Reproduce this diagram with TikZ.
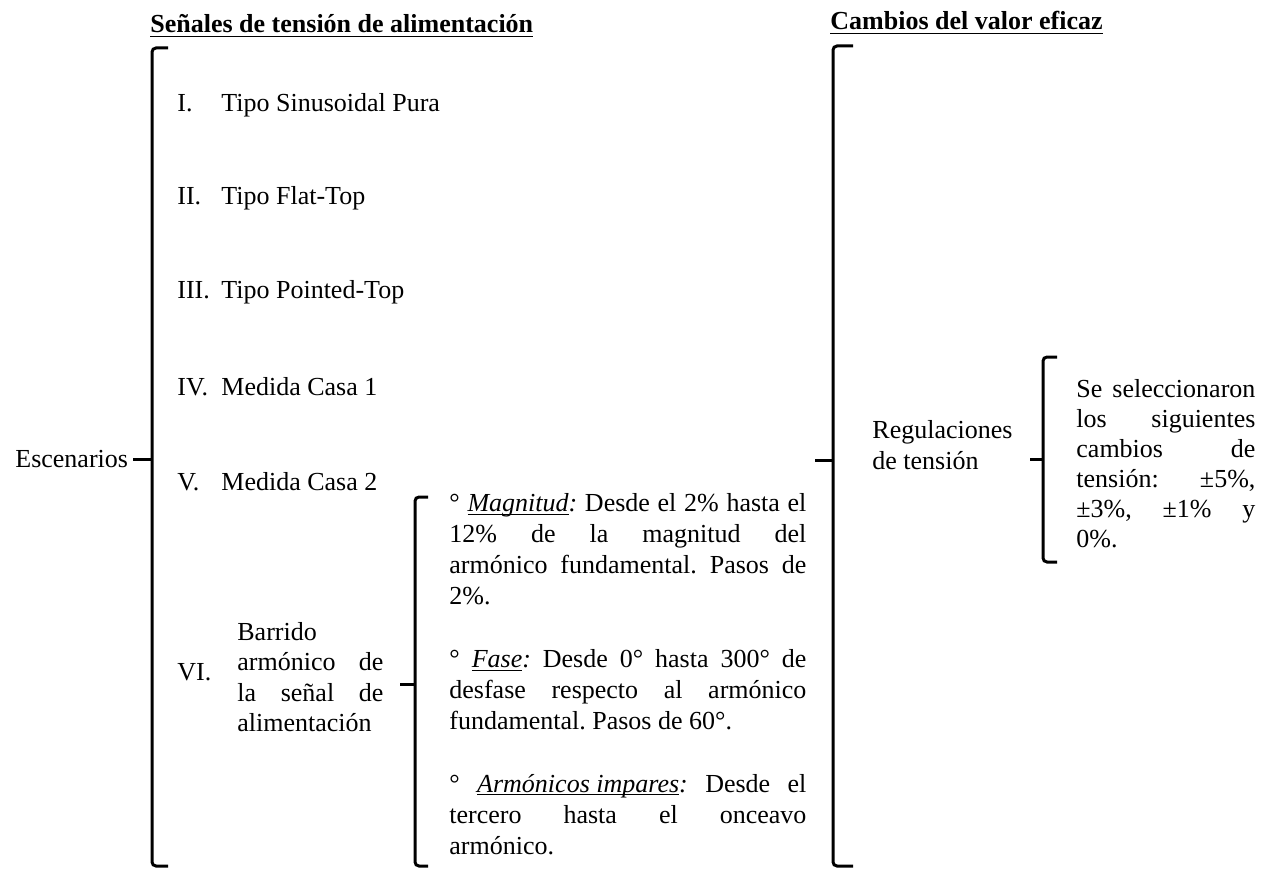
\documentclass[tikz,border=0pt]{standalone}
\usepackage{fontspec}
\setmainfont{Liberation Serif}
\usetikzlibrary{calc}
\frenchspacing

\begin{document}
\begin{tikzpicture}[x=0.5pt, y=-0.5pt,
    every node/.style={inner sep=0pt, font=\fontsize{13}{15.6}\selectfont},
    title/.style={anchor=base west, font=\fontsize{13}{15.6}\selectfont\bfseries},
    lbl/.style={anchor=base west},
    para/.style={anchor=west, align=justify},
    brace/.style={line width=1.5pt, rounded corners=2pt},
    tick/.style={line width=1.5pt}]

  \useasboundingbox (0,0) rectangle (1267,871);

  \node[title] (tit1) at (150,33) {\underline{Señales de tensión de alimentación}};
  \node[title] (tit2) at (830,30) {\underline{Cambios del valor eficaz}};

  \node[anchor=east, outer sep=2.5pt] (esc) at (133,459) {Escenarios};

  \node[lbl] (n1) at (177,112) {I.};
  \node[lbl] (s1) at (221,112) {Tipo Sinusoidal Pura};
  \node[lbl] (n2) at (177,205) {II.};
  \node[lbl] (s2) at (221,205) {Tipo Flat-Top};
  \node[lbl] (n3) at (177,299) {III.};
  \node[lbl] (s3) at (221,299) {Tipo Pointed-Top};
  \node[lbl] (n4) at (177,395) {IV.};
  \node[lbl] (s4) at (221,395) {Medida Casa 1};
  \node[lbl] (n5) at (177,490) {V.};
  \node[lbl] (s5) at (221,490) {Medida Casa 2};
  \node[lbl] (n6) at (177,680) {VI.};
  \node[para, text width=73pt, font=\fontsize{13}{15.2}\selectfont] (barrido) at (237,677) {Barrido\linebreak armónico de\linebreak la señal de\linebreak alimentación};

  \node[para, text width=178.5pt] (param) at (449,674) {°~\textit{\underline{\smash{Magnitud}}:} Desde el 2\% hasta el\linebreak 12\% de la magnitud del\linebreak armónico fundamental. Pasos de\linebreak 2\%.\\[15.6pt]
    °~\textit{\underline{\smash{Fase}}:} Desde 0° hasta 300° de\linebreak desfase respecto al armónico\linebreak fundamental. Pasos de 60°.\\[15.6pt]
    °~\textit{\underline{\smash{Armónicos impares}}:} Desde el\linebreak tercero hasta el onceavo\linebreak armónico.};

  \node[anchor=west, align=left] (reg) at (872,445) {Regulaciones\\de tensión};
  \node[para, text width=89.5pt, font=\fontsize{13}{15}\selectfont] (sel) at (1076,464) {Se seleccionaron\linebreak los siguientes\linebreak cambios de\linebreak tensión: ±5\%,\linebreak ±3\%, ±1\% y\linebreak 0\%.};

  % llaves
  \coordinate (b1t) at (152,48);
  \coordinate (b1b) at (152,866);
  \coordinate (b1m) at (152,459);
  \draw[brace] ($(b1t)+(16,0)$) -- (b1t) -- (b1b) -- ($(b1b)+(16,0)$);
  \draw[tick] (b1m) -- (esc);

  \coordinate (b2t) at (415,497);
  \coordinate (b2b) at (415,866);
  \coordinate (b2m) at (415,684);
  \coordinate (b2e) at (400,684);
  \draw[brace] ($(b2t)+(13,0)$) -- (b2t) -- (b2b) -- ($(b2b)+(13,0)$);
  \draw[tick] (b2m) -- (b2e);

  \coordinate (b3t) at (833,46);
  \coordinate (b3b) at (833,866);
  \coordinate (b3m) at (833,460);
  \coordinate (b3e) at (815,460);
  \draw[brace] ($(b3t)+(20,0)$) -- (b3t) -- (b3b) -- ($(b3b)+(20,0)$);
  \draw[tick] (b3m) -- (b3e);

  \coordinate (b4t) at (1043,357);
  \coordinate (b4b) at (1043,562);
  \coordinate (b4m) at (1043,459);
  \coordinate (b4e) at (1030,459);
  \draw[brace] ($(b4t)+(14,0)$) -- (b4t) -- (b4b) -- ($(b4b)+(14,0)$);
  \draw[tick] (b4m) -- (b4e);
\end{tikzpicture}
\end{document}
